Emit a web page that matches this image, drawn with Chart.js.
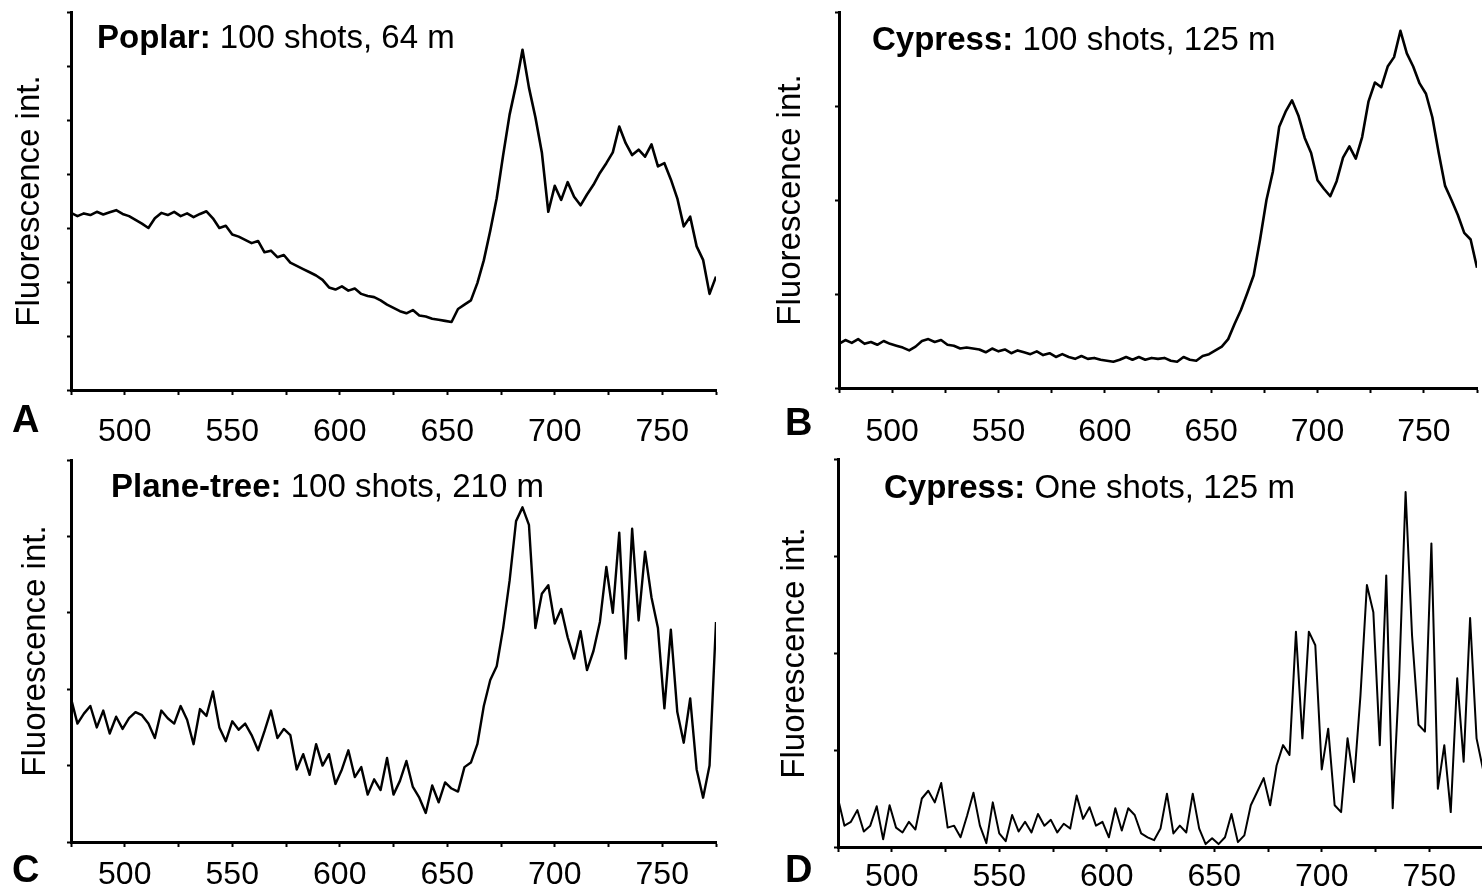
<!DOCTYPE html>
<html>
<head>
<meta charset="utf-8">
<script src="https://cdn.jsdelivr.net/npm/chart.js@4.4.1/dist/chart.umd.min.js"></script>
<style>
  html, body { margin: 0; padding: 0; width: 1482px; height: 892px; overflow: hidden; background: #fff; }
  body { position: relative; font-family: "Liberation Sans", Arial, sans-serif; color: #000; }
  canvas { position: absolute; left: 0; top: 0; }
  .ttl { position: absolute; font-size: 33px; line-height: 33px; white-space: nowrap; }
  .tag { position: absolute; font-size: 38px; line-height: 38px; font-weight: bold; }
</style>
</head>
<body>
<canvas id="chartA" width="1500" height="900"></canvas>
<canvas id="chartB" width="1500" height="900"></canvas>
<canvas id="chartC" width="1500" height="900"></canvas>
<canvas id="chartD" width="1500" height="900"></canvas>

<div class="ttl" style="left:97px;top:20px"><b>Poplar:</b> 100 shots, 64 m</div>
<div class="ttl" style="left:872px;top:22px"><b>Cypress:</b> 100 shots, 125 m</div>
<div class="ttl" style="left:111px;top:469px"><b>Plane-tree:</b> 100 shots, 210 m</div>
<div class="ttl" style="left:884px;top:470px"><b>Cypress:</b> One shots, 125 m</div>

<div class="tag" style="left:12px;top:400px">A</div>
<div class="tag" style="left:785px;top:403px">B</div>
<div class="tag" style="left:12px;top:850px">C</div>
<div class="tag" style="left:785px;top:850px">D</div>

<script>
// wavelength grid (nm)
var wavelengths = [
  475, 478, 481, 484, 487, 490, 493, 496, 499, 502,
  505, 508, 511, 514, 517, 520, 523, 526, 529, 532,
  535, 538, 541, 544, 547, 550, 553, 556, 559, 562,
  565, 568, 571, 574, 577, 580, 583, 586, 589, 592,
  595, 598, 601, 604, 607, 610, 613, 616, 619, 622,
  625, 628, 631, 634, 637, 640, 643, 646, 649, 652,
  655, 658, 661, 664, 667, 670, 673, 676, 679, 682,
  685, 688, 691, 694, 697, 700, 703, 706, 709, 712,
  715, 718, 721, 724, 727, 730, 733, 736, 739, 742,
  745, 748, 751, 754, 757, 760, 763, 766, 769, 772,
  775
];

var xTickLabels = [500, 550, 600, 650, 700, 750];

// fluorescence, in units of one y tick interval
var poplar = [
  3.28, 3.22, 3.27, 3.24, 3.30, 3.25, 3.29, 3.33, 3.26, 3.22,
  3.15, 3.08, 3.00, 3.18, 3.28, 3.24, 3.30, 3.22, 3.27, 3.20,
  3.26, 3.31, 3.18, 3.00, 3.04, 2.88, 2.84, 2.78, 2.72, 2.76,
  2.55, 2.58, 2.46, 2.50, 2.36, 2.30, 2.24, 2.18, 2.12, 2.04,
  1.90, 1.86, 1.92, 1.84, 1.88, 1.78, 1.74, 1.72, 1.66, 1.58,
  1.52, 1.46, 1.42, 1.48, 1.38, 1.36, 1.32, 1.30, 1.28, 1.26,
  1.50, 1.58, 1.66, 1.98, 2.40, 2.95, 3.55, 4.35, 5.10, 5.65,
  6.30, 5.60, 5.05, 4.40, 3.30, 3.78, 3.52, 3.85, 3.58, 3.42,
  3.62, 3.80, 4.02, 4.20, 4.40, 4.88, 4.57, 4.35, 4.45, 4.32,
  4.55, 4.14, 4.20, 3.90, 3.55, 3.03, 3.21, 2.66, 2.41, 1.78,
  2.10
];

var cypress100 = [
  0.47, 0.51, 0.48, 0.52, 0.47, 0.49, 0.46, 0.50, 0.47, 0.45,
  0.43, 0.40, 0.44, 0.50, 0.52, 0.49, 0.51, 0.46, 0.45, 0.42,
  0.43, 0.42, 0.41, 0.38, 0.42, 0.39, 0.41, 0.37, 0.40, 0.38,
  0.36, 0.39, 0.35, 0.37, 0.33, 0.36, 0.33, 0.31, 0.34, 0.31,
  0.32, 0.30, 0.29, 0.28, 0.30, 0.33, 0.30, 0.33, 0.30, 0.32,
  0.31, 0.32, 0.29, 0.28, 0.33, 0.30, 0.29, 0.34, 0.36, 0.40,
  0.44, 0.52, 0.68, 0.83, 1.01, 1.20, 1.58, 2.00, 2.30, 2.78,
  2.94, 3.06, 2.90, 2.66, 2.50, 2.21, 2.12, 2.04, 2.20, 2.45,
  2.57, 2.44, 2.67, 3.05, 3.25, 3.20, 3.42, 3.52, 3.80, 3.56,
  3.42, 3.24, 3.13, 2.88, 2.50, 2.15, 2.00, 1.84, 1.65, 1.58,
  1.28
];

var planeTree = [
  1.88, 1.55, 1.68, 1.78, 1.50, 1.72, 1.42, 1.64, 1.48, 1.62,
  1.70, 1.66, 1.55, 1.36, 1.72, 1.62, 1.55, 1.78, 1.60, 1.28,
  1.74, 1.65, 1.97, 1.50, 1.32, 1.58, 1.47, 1.55, 1.40, 1.20,
  1.45, 1.72, 1.36, 1.48, 1.40, 0.95, 1.15, 0.88, 1.28, 1.00,
  1.15, 0.76, 0.95, 1.20, 0.85, 0.98, 0.62, 0.82, 0.68, 1.10,
  0.62, 0.80, 1.06, 0.72, 0.58, 0.38, 0.74, 0.52, 0.78, 0.70,
  0.66, 0.98, 1.04, 1.28, 1.78, 2.12, 2.30, 2.80, 3.42, 4.20,
  4.38, 4.15, 2.80, 3.25, 3.36, 2.86, 3.05, 2.68, 2.40, 2.76,
  2.25, 2.50, 2.88, 3.60, 3.00, 4.05, 2.40, 4.10, 2.90, 3.80,
  3.20, 2.80, 1.75, 2.78, 1.70, 1.30, 1.88, 0.95, 0.58, 1.00,
  2.88
];

var cypressOne = [
  0.50, 0.22, 0.26, 0.38, 0.16, 0.22, 0.42, 0.08, 0.43, 0.20,
  0.15, 0.26, 0.18, 0.50, 0.58, 0.46, 0.66, 0.20, 0.22, 0.10,
  0.32, 0.56, 0.22, 0.04, 0.46, 0.14, 0.06, 0.33, 0.16, 0.26,
  0.15, 0.34, 0.22, 0.28, 0.15, 0.24, 0.19, 0.53, 0.29, 0.41,
  0.22, 0.26, 0.10, 0.40, 0.17, 0.40, 0.33, 0.14, 0.10, 0.07,
  0.19, 0.55, 0.14, 0.22, 0.15, 0.55, 0.19, 0.03, 0.09, 0.03,
  0.10, 0.34, 0.05, 0.12, 0.43, 0.57, 0.71, 0.43, 0.84, 1.05,
  0.95, 2.22, 1.12, 2.22, 2.08, 0.80, 1.22, 0.43, 0.36, 1.12,
  0.67, 1.56, 2.70, 2.42, 1.05, 2.80, 0.40, 1.74, 3.66, 2.18,
  1.26, 1.19, 3.13, 0.60, 1.05, 0.36, 1.74, 0.88, 2.36, 1.12,
  0.80
];

Chart.defaults.font.family = '"Liberation Sans", Arial, sans-serif';
Chart.defaults.color = '#000';

var CW = 1500, CH = 900;

// box = target plot area + where the y title and x labels sit (page px)
function panel(id, values, yMax, box, lineW) {
  var titleSize = 33, titleLH = titleSize * 1.2;
  var yTick = 4, xTick = 5, tickSize = 32;
  var titleGap = box.left - box.titleX - titleLH / 2 - yTick;
  var labelPad = box.labelY - box.bottom - xTick - tickSize / 2;
  // chart.js reserves the tick padding twice below a bottom axis
  var xAxisH = xTick + 2 * labelPad + tickSize;

  var points = wavelengths.map(function(w, i) { return { x: w, y: values[i] }; });

  return new Chart(document.getElementById(id), {
    type: 'line',
    data: {
      datasets: [{
        data: points,
        borderColor: '#000',
        borderWidth: lineW,
        borderJoinStyle: 'round',
        pointRadius: 0,
        tension: 0,
        fill: false
      }]
    },
    options: {
      responsive: false,
      animation: false,
      events: [],
      layout: {
        padding: {
          left: box.titleX - titleLH / 2,
          top: box.top,
          right: CW - box.right,
          bottom: CH - box.bottom - xAxisH
        }
      },
      plugins: { legend: { display: false }, tooltip: { enabled: false } },
      scales: {
        x: {
          type: 'linear',
          min: 475,
          max: 775,
          border: { display: true, color: '#000', width: 3 },
          grid: { drawOnChartArea: false, drawTicks: true, tickLength: xTick, tickColor: '#000', tickWidth: 2 },
          ticks: {
            stepSize: 25,
            autoSkip: false,
            maxRotation: 0,
            padding: labelPad,
            color: '#000',
            font: { size: tickSize, lineHeight: 1 },
            callback: function(v) { return xTickLabels.indexOf(v) >= 0 ? String(v) : ''; }
          }
        },
        y: {
          min: 0,
          max: yMax,
          border: { display: true, color: '#000', width: 3 },
          grid: { drawOnChartArea: false, drawTicks: true, tickLength: yTick, tickColor: '#000', tickWidth: 2 },
          ticks: { stepSize: 1, display: false },
          title: {
            display: true,
            text: 'Fluorescence int.',
            color: '#000',
            font: { size: titleSize },
            padding: { top: 0, bottom: titleGap }
          }
        }
      }
    }
  });
}

panel('chartA', poplar, 7, { left: 71, top: 12, right: 716, bottom: 390, titleX: 30, labelY: 432 }, 2.6);
panel('chartB', cypress100, 4, { left: 839, top: 12, right: 1484, bottom: 388, titleX: 791, labelY: 432 }, 2.6);
panel('chartC', planeTree, 5, { left: 71, top: 460, right: 716, bottom: 842, titleX: 36, labelY: 875 }, 2.4);
panel('chartD', cypressOne, 4, { left: 838, top: 459, right: 1483, bottom: 847, titleX: 795, labelY: 877 }, 2);
</script>
</body>
</html>
